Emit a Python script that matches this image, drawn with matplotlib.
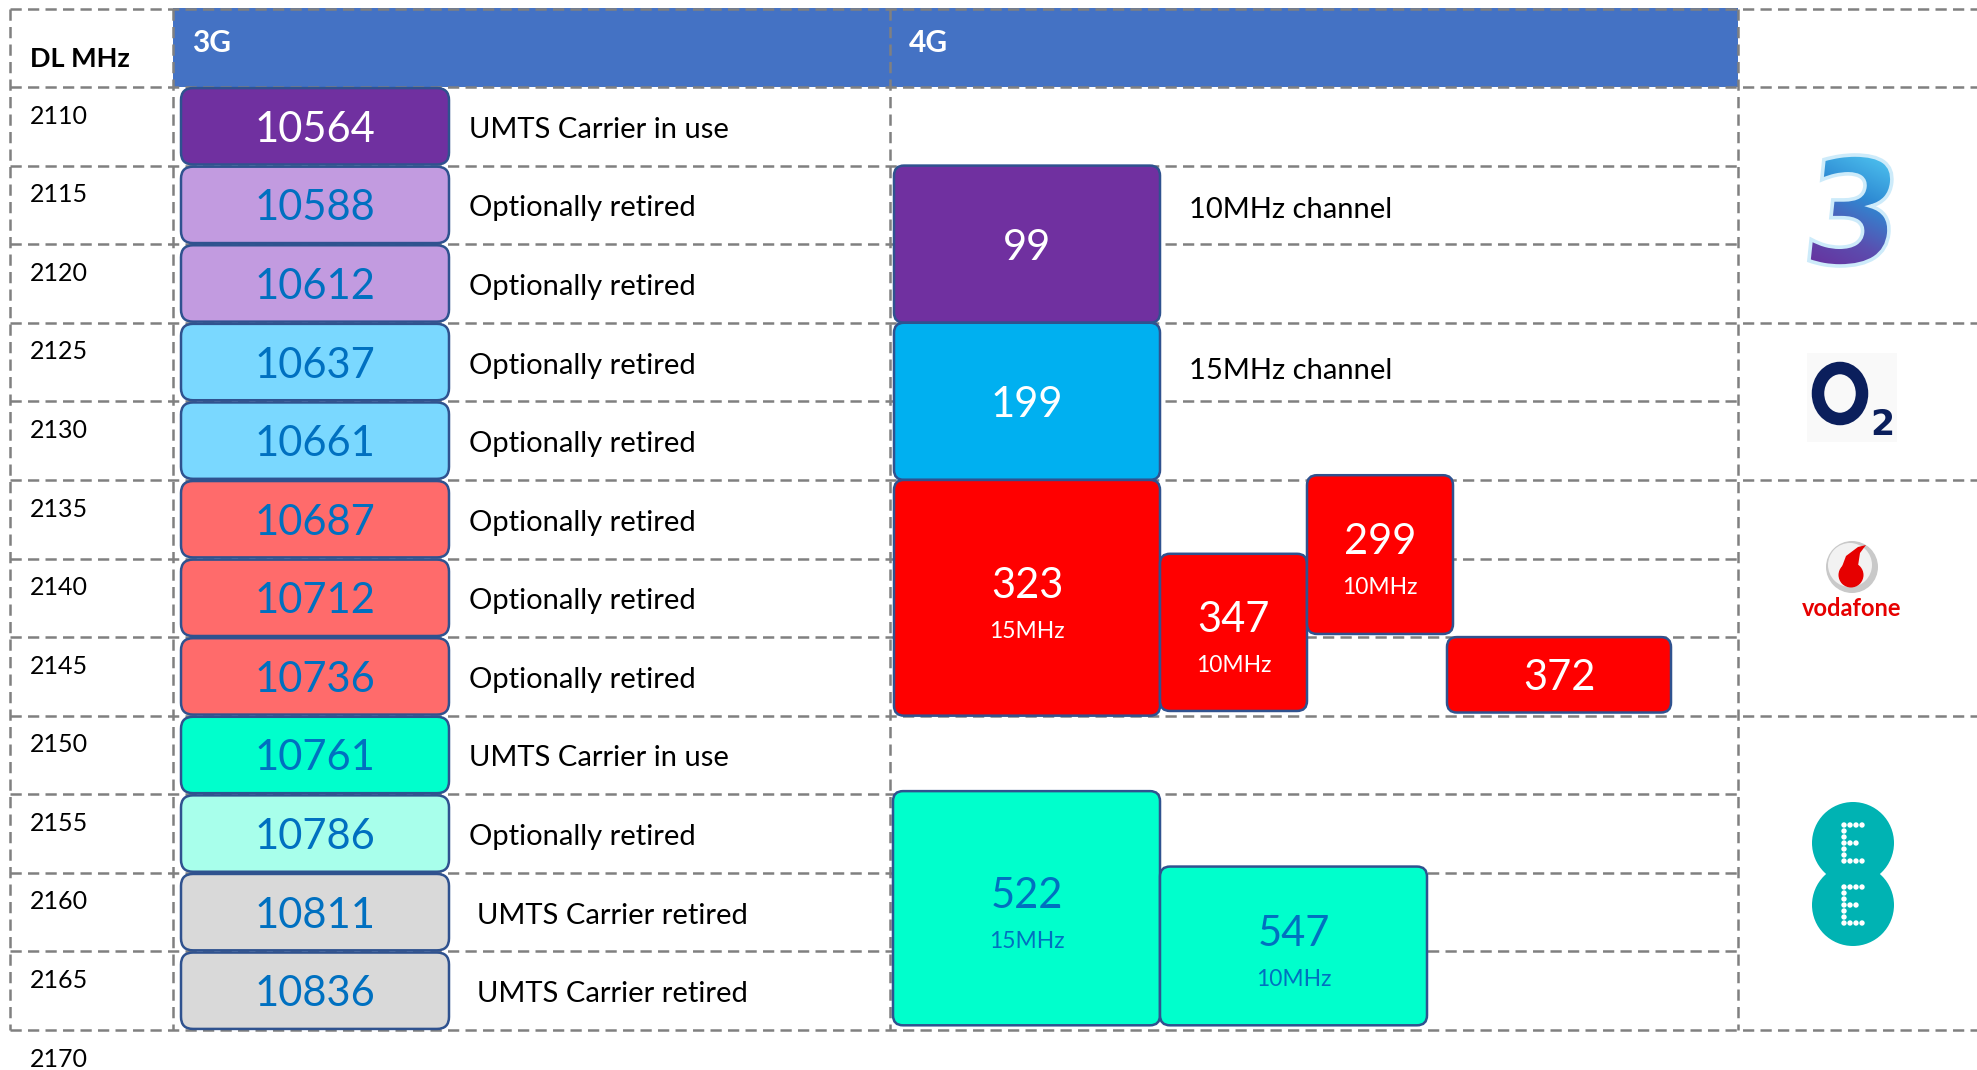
import matplotlib
matplotlib.use("Agg")
import matplotlib.pyplot as plt
import numpy as np
from matplotlib.patches import FancyBboxPatch, Rectangle, Circle, Ellipse, PathPatch, Polygon
from matplotlib.textpath import TextPath
from matplotlib.font_manager import FontProperties
from matplotlib.transforms import Affine2D
from matplotlib.colors import LinearSegmentedColormap

# ---------------- data ----------------
freq_ticks = [2110, 2115, 2120, 2125, 2130, 2135, 2140, 2145, 2150, 2155, 2160, 2165, 2170]
umts_uarfcn = [10564, 10588, 10612, 10637, 10661, 10687, 10712, 10736, 10761, 10786, 10811, 10836]
umts_status = ["UMTS Carrier in use", "Optionally retired", "Optionally retired",
               "Optionally retired", "Optionally retired", "Optionally retired",
               "Optionally retired", "Optionally retired", "UMTS Carrier in use",
               "Optionally retired", "UMTS Carrier retired", "UMTS Carrier retired"]
lte_earfcn = [99, 199, 323, 347, 299, 372, 522, 547]
lte_low_mhz = [2115.0, 2125.0, 2135.0, 2139.7, 2134.7, 2145.0, 2154.8, 2159.6]
lte_high_mhz = [2125.0, 2135.0, 2150.0, 2149.7, 2144.8, 2149.8, 2169.7, 2169.7]
lte_bw_label = ["", "", "15MHz", "10MHz", "10MHz", "", "15MHz", "10MHz"]
channel_notes = ["10MHz channel", "15MHz channel"]
channel_note_mhz = [2117.7, 2127.9]
operator_bounds = [2110, 2125, 2135, 2150, 2170]
header_labels = ["3G", "4G"]

# ---------------- styles / layout ----------------
W, H = 1977, 1070
PX_PER_MHZ = 15.717
Y_TOP = 2110 - 87 / PX_PER_MHZ
Y_BOT = 2110 + (H - 87) / PX_PER_MHZ
ASP = 1 / PX_PER_MHZ
TXT_DY = 0.22

def py(px):
    return Y_TOP + px / PX_PER_MHZ

FONT = ["Lato", "DejaVu Sans"]
plt.rcParams["font.family"] = FONT

GRID_C = "#808080"
DASH = (0, (4.5, 2.5))
EDGE = "#2F528F"
BLUE_TXT = "#0070C0"

umts_fill = ["#7030A0", "#C29BE0", "#C29BE0", "#7AD8FF", "#7AD8FF", "#FF6B6B",
             "#FF6B6B", "#FF6B6B", "#00FFCC", "#A8FFEB", "#D9D9D9", "#D9D9D9"]
umts_txt = ["white"] + [BLUE_TXT] * 11
lte_fill = ["#7030A0", "#00B0F0", "#FF0000", "#FF0000", "#FF0000", "#FF0000", "#00FFCC", "#00FFCC"]
lte_txt = ["white"] * 6 + [BLUE_TXT] * 2
lte_x = [(894, 1160), (894, 1160), (894, 1160), (1160, 1307), (1307, 1453),
         (1447, 1671), (893, 1160), (1160, 1427)]

X_LEFT, X_COL1, X_COL2, X_COL3 = 10, 173, 890, 1738

fig = plt.figure(figsize=(W / 100, H / 100), dpi=100)
ax = fig.add_axes([0, 0, 1, 1])
ax.set_xlim(0, W)
ax.set_ylim(Y_BOT, Y_TOP)
ax.axis("off")

# ---- header bar (below grid) ----
ax.add_patch(Rectangle((X_COL1, py(8)), X_COL3 - X_COL1, 2110 - py(8),
                       facecolor="#4472C4", edgecolor="none", zorder=0.5))

# ---- grid ----
top_y = py(9)
ax.plot([X_LEFT, W], [top_y, top_y], color=GRID_C, lw=1.8, ls=DASH, zorder=1)
for f in freq_ticks:
    x1 = W if f in operator_bounds else X_COL3
    ax.plot([X_LEFT, x1], [f, f], color=GRID_C, lw=1.8, ls=DASH, zorder=1)
for xv in [X_LEFT, X_COL1, X_COL2, X_COL3]:
    ax.plot([xv, xv], [top_y, 2170], color=GRID_C, lw=1.8, ls=DASH, zorder=1)

for lab, xh in zip(header_labels, [192, 909]):
    ax.text(xh, py(43), lab, color="white", fontsize=21.5, fontweight="bold",
            ha="left", va="center", zorder=4)
ax.text(30, py(59), "DL MHz", color="black", fontsize=19.5, fontweight="bold",
        ha="left", va="center", zorder=4)

# ---- frequency labels ----
for f in freq_ticks:
    ax.text(30, f + 1.85, str(f), fontsize=18, ha="left", va="center", zorder=4)

# ---- 3G boxes ----
for i, (num, status) in enumerate(zip(umts_uarfcn, umts_status)):
    lo = freq_ticks[i] + 0.07
    hi = freq_ticks[i + 1] - 0.07
    x0, x1 = 181, 449
    ax.add_patch(FancyBboxPatch((x0, lo), x1 - x0, hi - lo,
                                boxstyle="round,pad=0,rounding_size=12",
                                mutation_aspect=ASP, facecolor=umts_fill[i],
                                edgecolor=EDGE, lw=1.8, zorder=5))
    ax.text((x0 + x1) / 2, (lo + hi) / 2 + TXT_DY, str(num), color=umts_txt[i], fontsize=30,
            ha="center", va="center", zorder=6)
    xs = 477 if "retired" in status and "UMTS" in status else 469
    ax.text(xs, (lo + hi) / 2 + TXT_DY, status, color="black", fontsize=21,
            ha="left", va="center", zorder=6)

# ---- 4G boxes ----
for i, num in enumerate(lte_earfcn):
    lo, hi = lte_low_mhz[i], lte_high_mhz[i]
    x0, x1 = lte_x[i]
    ax.add_patch(FancyBboxPatch((x0, lo), x1 - x0, hi - lo,
                                boxstyle="round,pad=0,rounding_size=10",
                                mutation_aspect=ASP, facecolor=lte_fill[i],
                                edgecolor=EDGE, lw=1.8, zorder=5))
    cx, cy = (x0 + x1) / 2, (lo + hi) / 2 + TXT_DY
    if lte_bw_label[i]:
        ax.text(cx, cy - 1.0, str(num), color=lte_txt[i], fontsize=30,
                ha="center", va="center", zorder=6)
        ax.text(cx, cy + 1.9, lte_bw_label[i], color=lte_txt[i], fontsize=16.5,
                ha="center", va="center", zorder=6)
    else:
        ax.text(cx, cy, str(num), color=lte_txt[i], fontsize=30,
                ha="center", va="center", zorder=6)

for note, ym in zip(channel_notes, channel_note_mhz):
    ax.text(1189, ym + 0.15, note, color="black", fontsize=21, ha="left", va="center", zorder=6)

# ---------------- logos (pixel overlay) ----------------
lax = fig.add_axes([0, 0, 1, 1], zorder=10)
lax.set_xlim(0, W)
lax.set_ylim(H, 0)
lax.axis("off")
lax.patch.set_alpha(0)

# Three "3"
fp = FontProperties(family="DejaVu Sans", weight="bold")
tp = TextPath((0, 0), "3", size=1, prop=fp)
bb = tp.get_extents()
bx0, bx1, by0, by1 = 1812, 1899, 155, 266
tr = (Affine2D().translate(-bb.x0, -bb.y1)
      .scale((bx1 - bx0 - 10) / bb.width, -(by1 - by0) / bb.height)
      .skew_deg(-6, 0)
      .translate(bx0 + 8, by0))
path3 = tr.transform_path(tp)
p3 = PathPatch(path3, facecolor="none", edgecolor="#CDEBFA", lw=2.6, zorder=12)
lax.add_patch(p3)
yy, xx = np.mgrid[0:1:200j, 0:1:200j]
grad = np.clip(0.75 * yy + 0.35 * (1 - xx) - 0.1, 0, 1)
cmap3 = LinearSegmentedColormap.from_list("three", ["#4CC0EE", "#2E8AD3", "#5A4FB0", "#6A2E9C"])
im = lax.imshow(grad, extent=(bx0 - 10, bx1 + 10, by1, by0), origin="upper", cmap=cmap3,
                aspect="auto", zorder=11)
im.set_clip_path(PathPatch(path3, transform=lax.transData))
lax.set_xlim(0, W)
lax.set_ylim(H, 0)

# O2
lax.add_patch(Rectangle((1807, 353), 90, 89, facecolor="#F9F9F9", edgecolor="none", zorder=11))
lax.add_patch(Ellipse((1840, 393.5), 44, 51, facecolor="none", edgecolor="#0B1F5C",
                      lw=9, zorder=12))
lax.text(1882, 425, "2", color="#0B1F5C", fontsize=25, fontweight="bold",
         ha="center", va="center", zorder=12, family="DejaVu Sans")

# Vodafone
lax.add_patch(Circle((1852, 567), 26, facecolor="#C9C9C9", edgecolor="none", zorder=11))
lax.add_patch(Circle((1850, 565), 22, facecolor="#F2F2F2", edgecolor="none", zorder=11))
lax.add_patch(Circle((1851, 575), 12.5, facecolor="#E60000", edgecolor="none", zorder=12))
lax.add_patch(Polygon([(1840, 572), (1846, 556), (1858, 547), (1866, 545),
                       (1860, 553), (1858, 566)], closed=True,
                      facecolor="#E60000", edgecolor="none", zorder=12))
lax.text(1852, 608, "vodafone", color="#E60000", fontsize=17, fontweight="bold",
         ha="center", va="center", zorder=12)

# EE
for cy in (843, 905):
    lax.add_patch(Circle((1853, cy), 41, facecolor="#00B3B3", edgecolor="none", zorder=11))
for cy in (843, 905):
    ex, ey = 1853, cy
    pts = []
    for k in range(7):
        pts.append((ex - 9, ey - 18 + 6 * k))
    for dx in (-3, 3, 9):
        pts.append((ex + dx, ey - 18))
        pts.append((ex + dx, ey + 18))
    for dx in (-3, 3):
        pts.append((ex + dx, ey))
    for (px_, py_) in pts:
        lax.add_patch(Circle((px_, py_), 2.7, facecolor="white", edgecolor="none", zorder=12))

fig.savefig("out.png", dpi=100)
